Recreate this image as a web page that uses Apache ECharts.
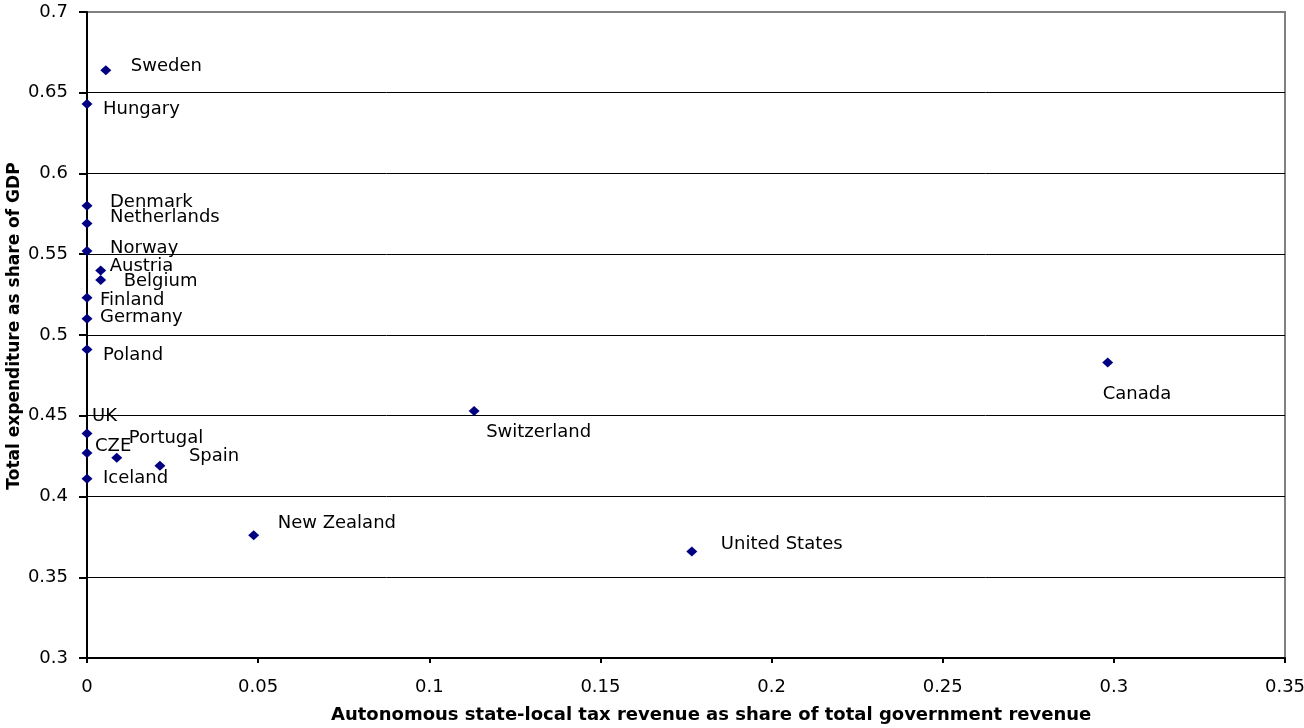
<!DOCTYPE html>
<html>
<head>
<meta charset="utf-8">
<title>Expenditure vs. autonomous sub-national tax revenue</title>
<script src="https://cdn.jsdelivr.net/npm/echarts@6/dist/echarts.min.js"></script>
<style>
  html, body { margin: 0; padding: 0; background: #ffffff; }
  #chart { width: 1304px; height: 728px; }
</style>
</head>
<body>
<div id="chart"></div>
<script>
// Countries and their two shares
const countries = ['Sweden', 'Hungary', 'Denmark', 'Netherlands', 'Norway', 'Austria', 'Belgium',
  'Finland', 'Germany', 'Poland', 'UK', 'CZE', 'Portugal', 'Spain', 'Iceland',
  'Switzerland', 'Canada', 'New Zealand', 'United States'];

// Autonomous state-local tax revenue as share of total government revenue
const taxRevenueShare = [0.0055, 0, 0, 0, 0, 0.004, 0.004,
  0, 0, 0, 0, 0, 0.0087, 0.0213, 0,
  0.1131, 0.2982, 0.0487, 0.1767];

// Total expenditure as share of GDP
const expenditureShare = [0.664, 0.643, 0.580, 0.569, 0.552, 0.540, 0.534,
  0.523, 0.510, 0.491, 0.439, 0.427, 0.424, 0.419, 0.411,
  0.453, 0.483, 0.376, 0.366];

// Axis ranges and steps
const xAxisRange = { min: 0, max: 0.35, step: 0.05 };
const yAxisRange = { min: 0.3, max: 0.7, step: 0.05 };

// Label placement next to each marker (pixels: start of text, vertical centre)
const labelOffsets = {
  'Sweden': [25, -4], 'Hungary': [16, 5], 'Denmark': [23, -3], 'Netherlands': [23, -6],
  'Norway': [23, -3], 'Austria': [9, -4], 'Belgium': [23, 1], 'Finland': [13, 2],
  'Germany': [13, -2], 'Poland': [16, 6], 'UK': [5, -17], 'CZE': [8, -7],
  'Portugal': [12, -19], 'Spain': [29, -9], 'Iceland': [16, 0], 'Switzerland': [12, 21],
  'Canada': [-5, 32], 'New Zealand': [24, -12], 'United States': [29, -7]
};

const FONT = 'DejaVu Sans';

const points = countries.map((name, i) => ({
  name: name,
  value: [taxRevenueShare[i], expenditureShare[i]],
  label: { offset: labelOffsets[name] }
}));

const chart = echarts.init(document.getElementById('chart'), null, { renderer: 'canvas' });

chart.setOption({
  animation: false,
  backgroundColor: '#ffffff',
  title: {
    text: 'Autonomous state-local tax revenue as share of total government revenue',
    left: 331,
    top: 706,
    padding: 0,
    textStyle: { fontFamily: FONT, fontWeight: 'bold', fontSize: 18, color: '#000000' }
  },
  grid: {
    left: 87, right: 19, top: 12, bottom: 70,
    show: true,
    borderColor: '#808080',
    borderWidth: 2,
    containLabel: false,
    outerBoundsMode: 'none'
  },
  xAxis: {
    type: 'value',
    min: xAxisRange.min,
    max: xAxisRange.max,
    interval: xAxisRange.step,
    axisLine: { show: true, onZero: false, lineStyle: { color: '#000000', width: 2 } },
    axisTick: { show: true, length: 5, lineStyle: { color: '#000000', width: 2 } },
    axisLabel: { margin: 20, fontFamily: FONT, fontSize: 18, color: '#000000' },
    splitLine: { show: false }
  },
  yAxis: {
    type: 'value',
    min: yAxisRange.min,
    max: yAxisRange.max,
    interval: yAxisRange.step,
    name: 'Total expenditure as share of GDP',
    nameLocation: 'middle',
    nameRotate: 90,
    nameGap: 64,
    nameMoveOverlap: false,
    nameTextStyle: { fontFamily: FONT, fontWeight: 'bold', fontSize: 17, color: '#000000', padding: [0, 0, 0, 18] },
    axisLine: { show: true, onZero: false, lineStyle: { color: '#000000', width: 2 } },
    axisTick: { show: true, length: 8, lineStyle: { color: '#000000', width: 2 } },
    axisLabel: { margin: 19, fontFamily: FONT, fontSize: 18, color: '#000000' },
    splitLine: { show: true, showMinLine: false, showMaxLine: false, lineStyle: { color: '#000000', width: 1 } }
  },
  series: [{
    type: 'scatter',
    symbol: 'diamond',
    symbolSize: [11, 10],
    itemStyle: { color: '#000080', opacity: 1 },
    label: {
      show: true,
      position: 'inside',
      align: 'left',
      verticalAlign: 'middle',
      formatter: '{b}',
      fontFamily: FONT,
      fontSize: 18,
      color: '#000000',
      textBorderWidth: 0
    },
    emphasis: { disabled: true },
    data: points
  }]
});
</script>
</body>
</html>
